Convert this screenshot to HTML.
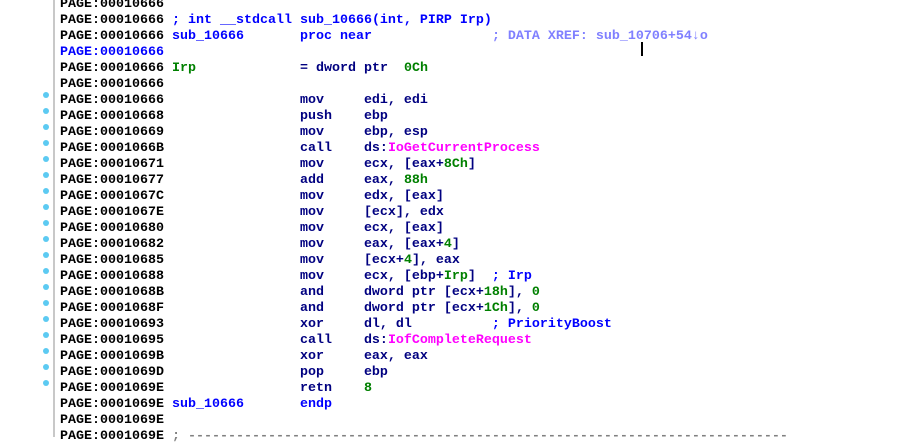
<!DOCTYPE html>
<html><head><style>
body{margin:0;width:906px;height:437px;overflow:hidden;background:#fff;position:relative}
.v{position:absolute;left:53px;top:0;width:2px;height:437px;background:#c8c8c8}
pre{position:absolute;left:60px;top:-3px;margin:0;font-family:"Liberation Mono",monospace;font-size:13.33px;line-height:16px;font-weight:bold;color:#000;white-space:pre}
.n{color:#000080}.b{color:#0000ff}.l{color:#8080ff}.g{color:#008000}.m{color:#ff00ff}.d{color:#808080}
.dot{position:absolute;left:43px;width:6px;height:6px;border-radius:3px;background:#5ccaf2}
.cur{position:absolute;left:641px;top:42px;width:2px;height:14px;background:#000}
</style></head><body>
<div class="v"></div>
<pre>PAGE:00010666
PAGE:00010666 <span class="b">; int __stdcall sub_10666(int, PIRP Irp)</span>
PAGE:00010666 <span class="b">sub_10666       proc near</span>               <span class="l">; DATA XREF: sub_10706+54↓o</span>
<span class="b">PAGE:00010666</span>
PAGE:00010666 <span class="g">Irp</span>             <span class="n">= dword ptr  <span class="g">0Ch</span></span>
PAGE:00010666
PAGE:00010666                 <span class="n">mov     edi, edi</span>
PAGE:00010668                 <span class="n">push    ebp</span>
PAGE:00010669                 <span class="n">mov     ebp, esp</span>
PAGE:0001066B                 <span class="n">call    ds:<span class="m">IoGetCurrentProcess</span></span>
PAGE:00010671                 <span class="n">mov     ecx, [eax+<span class="g">8Ch</span>]</span>
PAGE:00010677                 <span class="n">add     eax, <span class="g">88h</span></span>
PAGE:0001067C                 <span class="n">mov     edx, [eax]</span>
PAGE:0001067E                 <span class="n">mov     [ecx], edx</span>
PAGE:00010680                 <span class="n">mov     ecx, [eax]</span>
PAGE:00010682                 <span class="n">mov     eax, [eax+<span class="g">4</span>]</span>
PAGE:00010685                 <span class="n">mov     [ecx+<span class="g">4</span>], eax</span>
PAGE:00010688                 <span class="n">mov     ecx, [ebp+<span class="g">Irp</span>]  <span class="b">; Irp</span></span>
PAGE:0001068B                 <span class="n">and     dword ptr [ecx+<span class="g">18h</span>], <span class="g">0</span></span>
PAGE:0001068F                 <span class="n">and     dword ptr [ecx+<span class="g">1Ch</span>], <span class="g">0</span></span>
PAGE:00010693                 <span class="n">xor     dl, dl</span>          <span class="b">; PriorityBoost</span>
PAGE:00010695                 <span class="n">call    ds:<span class="m">IofCompleteRequest</span></span>
PAGE:0001069B                 <span class="n">xor     eax, eax</span>
PAGE:0001069D                 <span class="n">pop     ebp</span>
PAGE:0001069E                 <span class="n">retn    <span class="g">8</span></span>
PAGE:0001069E <span class="b">sub_10666       endp</span>
PAGE:0001069E
PAGE:0001069E <span class="d">; ---------------------------------------------------------------------------</span>
</pre>
<div class="cur"></div>
<div class="dot" style="top:92px"></div><div class="dot" style="top:108px"></div><div class="dot" style="top:124px"></div><div class="dot" style="top:140px"></div><div class="dot" style="top:156px"></div><div class="dot" style="top:172px"></div><div class="dot" style="top:188px"></div><div class="dot" style="top:204px"></div><div class="dot" style="top:220px"></div><div class="dot" style="top:236px"></div><div class="dot" style="top:252px"></div><div class="dot" style="top:268px"></div><div class="dot" style="top:284px"></div><div class="dot" style="top:300px"></div><div class="dot" style="top:316px"></div><div class="dot" style="top:332px"></div><div class="dot" style="top:348px"></div><div class="dot" style="top:364px"></div><div class="dot" style="top:380px"></div>
</body></html>
